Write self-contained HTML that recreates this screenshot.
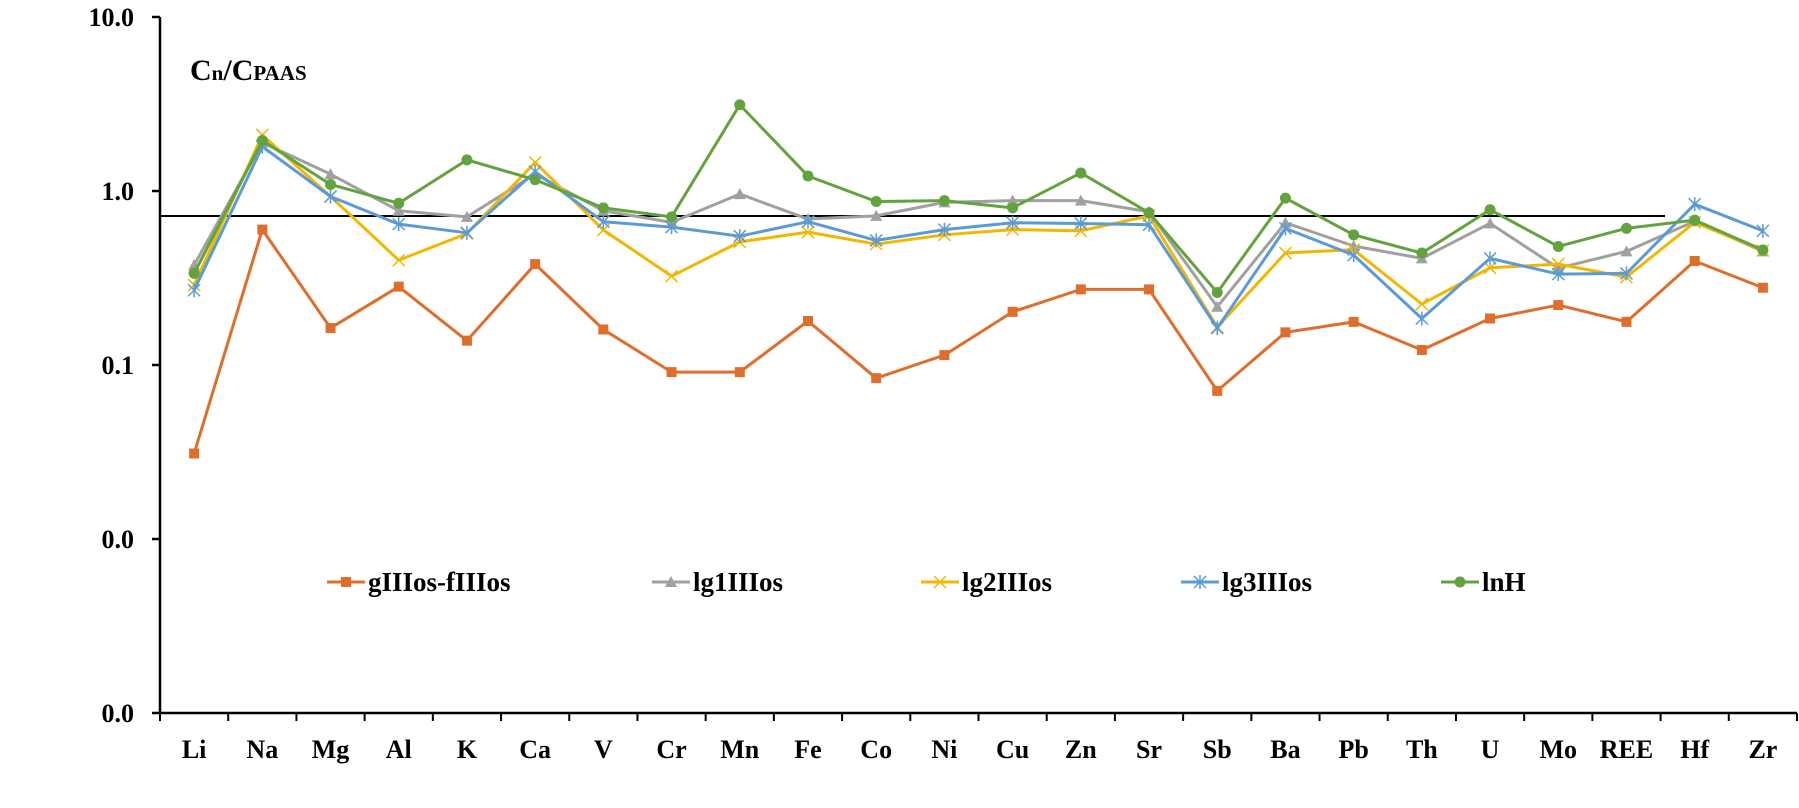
<!DOCTYPE html>
<html><head><meta charset="utf-8"><style>
html,body{margin:0;padding:0;background:#fff;}
svg{display:block;}
text{font-family:"Liberation Serif",serif;font-weight:bold;fill:#000;}
</style></head><body>
<svg id="chart" width="1799" height="808" viewBox="0 0 1799 808" xmlns="http://www.w3.org/2000/svg">
<g id="axes"></g>
<g id="refline"></g>
<g id="series"></g>
<g id="legend"></g>
<text x="190" y="80" font-size="30">C<tspan font-size="21">n</tspan>/C<tspan font-size="21">PAAS</tspan></text>
</svg>
<script>
const categories = ["Li","Na","Mg","Al","K","Ca","V","Cr","Mn","Fe","Co","Ni","Cu","Zn","Sr","Sb","Ba","Pb","Th","U","Mo","REE","Hf","Zr"];
const seriesNames = ["gIIIos-fIIIos","lg1IIIos","lg2IIIos","lg3IIIos","lnH"];
const gIIIos = [0.031,0.60,0.163,0.282,0.138,0.38,0.16,0.091,0.091,0.179,0.084,0.114,0.202,0.272,0.272,0.071,0.154,0.177,0.122,0.185,0.221,0.177,0.396,0.278];
const lg1 = [0.375,1.9,1.25,0.77,0.71,1.25,0.77,0.66,0.96,0.69,0.72,0.86,0.88,0.88,0.76,0.216,0.657,0.483,0.41,0.652,0.36,0.45,0.67,0.45];
const lg2 = [0.288,2.1,0.93,0.40,0.57,1.46,0.597,0.324,0.51,0.58,0.495,0.56,0.60,0.59,0.72,0.165,0.44,0.46,0.224,0.362,0.38,0.32,0.66,0.455];
const lg3 = [0.269,1.8,0.93,0.645,0.575,1.29,0.666,0.62,0.55,0.666,0.52,0.60,0.657,0.65,0.64,0.163,0.61,0.428,0.185,0.41,0.333,0.336,0.84,0.59];
const lnH = [0.336,1.95,1.09,0.85,1.51,1.16,0.80,0.71,3.13,1.22,0.87,0.88,0.80,1.27,0.75,0.261,0.91,0.56,0.44,0.78,0.48,0.61,0.68,0.458];
const yTickValues = [10,1,0.1,0.01,0.001];
const yTickLabels = ["10.0","1.0","0.1","0.0","0.0"];
const refValue = 0.718;

const NS="http://www.w3.org/2000/svg";
const X0=160, X1=1797, Ytop=17, Ybot=713;
const step=(X1-X0)/categories.length;
function xPos(i){return X0+step*(i+0.5);}
function yPos(v){return Ybot-(Math.log10(v)+3)/4*(Ybot-Ytop);}
function mk(tag,attrs,parent){const e=document.createElementNS(NS,tag);for(const k in attrs)e.setAttribute(k,attrs[k]);parent.appendChild(e);return e;}

const axes=document.getElementById('axes');
let e=mk('line',{x1:X0,y1:Ytop,x2:X0,y2:Ybot,stroke:'#000','stroke-width':2.5},axes);


e=mk('line',{x1:X0,y1:Ybot,x2:X1,y2:Ybot,stroke:'#000','stroke-width':2.5},axes);


yTickValues.forEach((v,i)=>{
  const y=yPos(v);
  let t=mk('line',{x1:X0-8,y1:y,x2:X0,y2:y,stroke:'#000','stroke-width':2.5},axes);
  
  
  let l=mk('text',{x:134,y:y+9,'text-anchor':'end','font-size':26},axes);
  l.textContent=yTickLabels[i];
  
  
});
for(let i=0;i<=categories.length;i++){
  const x=X0+step*i;
  let t=mk('line',{x1:x,y1:Ybot,x2:x,y2:Ybot+8,stroke:'#000','stroke-width':2},axes);
  
  
}
categories.forEach((c,i)=>{
  let l=mk('text',{x:xPos(i),y:758,'text-anchor':'middle','font-size':26},axes);
  l.textContent=c;
  
  
});

const rl=mk('line',{x1:X0,y1:yPos(refValue),x2:1665,y2:yPos(refValue),stroke:'#000','stroke-width':2},document.getElementById('refline'));



const colors=['#DF6E2C','#A0A0A0','#F2B700','#5B9BD5','#62A33E'];
const markers=['square','triangle','x','star','circle'];
const data=[gIIIos,lg1,lg2,lg3,lnH];
function marker(g,type,x,y,col){
  let m;
  if(type==='square') m=mk('rect',{x:x-5,y:y-5,width:10,height:10,fill:col},g);
  else if(type==='triangle') m=mk('path',{d:`M${x},${y-6}L${x+6},${y+5}L${x-6},${y+5}Z`,fill:col},g);
  else if(type==='circle') m=mk('circle',{cx:x,cy:y,r:5.5,fill:col},g);
  else if(type==='x') m=mk('path',{d:`M${x-6},${y-6}L${x+6},${y+6}M${x-6},${y+6}L${x+6},${y-6}`,stroke:col,'stroke-width':1.5},g);
  else m=mk('path',{d:`M${x-6},${y-6}L${x+6},${y+6}M${x-6},${y+6}L${x+6},${y-6}M${x},${y-7}L${x},${y+7}`,stroke:col,'stroke-width':1.5},g);
  return m;
}
const sg=document.getElementById('series');
data.forEach((vals,s)=>{
  const g=mk('g',{},sg);
  
  
  const pts=vals.map((v,i)=>xPos(i)+','+yPos(v)).join(' ');
  const pl=mk('polyline',{points:pts,fill:'none',stroke:colors[s],'stroke-width':3,'stroke-linejoin':'round'},g);
  
  
  vals.forEach((v,i)=>{
    const m=marker(g,markers[s],xPos(i),yPos(v),colors[s]);
    
    
  });
});

const lg=document.getElementById('legend');
const legX=[327,652,921,1181,1441];
seriesNames.forEach((n,s)=>{
  const g=mk('g',{},lg);
  
  
  const y=582;
  mk('line',{x1:legX[s],y1:y,x2:legX[s]+38,y2:y,stroke:colors[s],'stroke-width':3},g);
  marker(g,markers[s],legX[s]+19,y,colors[s]);
  const t=mk('text',{x:legX[s]+41,y:y+9,'font-size':27},g);
  t.textContent=n;
});
</script>
</body></html>
